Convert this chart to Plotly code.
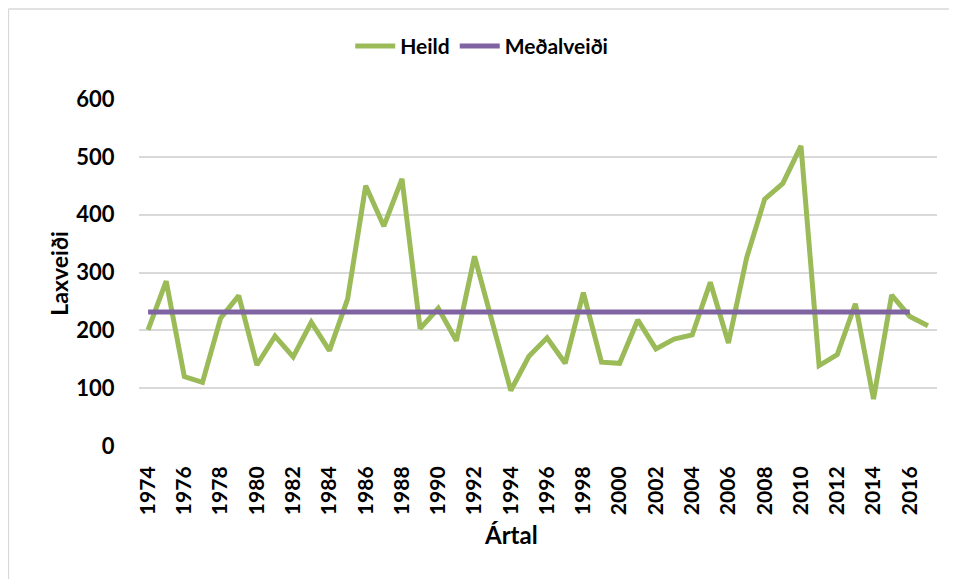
import plotly.graph_objects as go

years = list(range(1974, 2018))
heild = [201, 285, 120, 110, 221, 260, 140, 190, 154, 214,
         165, 254, 450, 380, 462, 203, 238, 182, 328, 215,
         96, 155, 187, 143, 265, 145, 143, 218, 168, 185,
         192, 283, 178, 325, 427, 454, 519, 139, 158, 246,
         81, 261, 224, 208]
avg_years = list(range(1974, 2017))
medalveidi_value = 231.5
medalveidi = [medalveidi_value for _ in avg_years]

y_ticks = [0, 100, 200, 300, 400, 500, 600]

W, H = 957, 579
OFF = 8  # page body margin
L, R, T, B = 139.3, 19.7, 98.8, 132.7   # screen coordinates of plot area
pw, ph = W - L - R, H - T - B

def px(x):
    return (x - L) / pw

def py(y):
    return 1 + (T - y) / ph

FONT = "Lato"
GREEN = "#9BBB59"
PURPLE = "#8064A2"

fig = go.Figure()
fig.add_trace(go.Scatter(x=years, y=heild, mode="lines", name="Heild",
                         line=dict(color=GREEN, width=5)))
fig.add_trace(go.Scatter(x=avg_years, y=medalveidi, mode="lines", name="Meðalveiði",
                         line=dict(color=PURPLE, width=5)))

fig.update_layout(
    width=W, height=H,
    margin=dict(l=L - OFF, r=R + OFF, t=T - OFF, b=B + OFF, pad=0),
    paper_bgcolor="white", plot_bgcolor="white",
    font=dict(family=FONT, color="black", size=20),
    showlegend=True,
    legend=dict(orientation="h", x=px(482), y=py(46), xanchor="center", yanchor="middle",
                font=dict(family=FONT, size=21, color="black", weight="bold"),
                itemwidth=40, bgcolor="rgba(0,0,0,0)"),
    xaxis=dict(range=[1973.5, 2017.5], tickmode="linear", tick0=1974, dtick=2,
               tickangle=-90, showgrid=False, zeroline=False, showline=False,
               ticks="outside", ticklen=11, tickcolor="rgba(0,0,0,0)",
               tickfont=dict(family=FONT, size=21, color="black", weight="bold")),
    yaxis=dict(range=[0, 600], tickvals=y_ticks, showgrid=True, gridcolor="#D9D9D9",
               gridwidth=1.5, zeroline=False, showline=False,
               ticks="outside", ticklen=19, tickcolor="rgba(0,0,0,0)",
               tickfont=dict(family=FONT, size=22, color="black", weight="bold")),
    annotations=[
        dict(text="Ártal", x=px(511), y=py(535), xref="paper", yref="paper",
             showarrow=False, xanchor="center", yanchor="middle",
             font=dict(family=FONT, size=24, color="black", weight="bold")),
        dict(text="Laxveiði", x=px(59), y=py(273), xref="paper", yref="paper",
             showarrow=False, xanchor="center", yanchor="middle", textangle=-90,
             font=dict(family=FONT, size=23, color="black", weight="bold")),
    ],
    shapes=[
        dict(type="line", xref="paper", yref="paper", x0=px(8.7), x1=px(970), y0=py(8.7), y1=py(8.7),
             line=dict(color="#D9D9D9", width=1.5)),
        dict(type="line", xref="paper", yref="paper", x0=px(8.7), x1=px(8.7), y0=py(8.7), y1=py(600),
             line=dict(color="#D9D9D9", width=1.5)),
    ],
)

fig.write_html("out.html")
